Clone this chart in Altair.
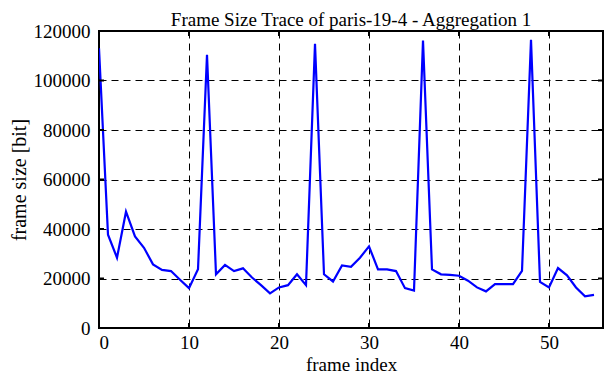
import altair as alt
import pandas as pd

sizes = [113000, 37700, 28400, 47000, 37000, 32400, 25700, 23500, 23000, 19500,
         16100, 23700, 110400, 21700, 25500, 23000, 24100, 20400, 17300, 14000,
         16400, 17300, 21700, 17300, 114800, 21700, 18800, 25300, 24700, 28400,
         33000, 23700, 23700, 23000, 16100, 15100, 116100, 23700, 21700, 21500,
         21100, 19100, 16400, 14800, 17700, 17700, 17700, 23100, 116400, 18600,
         16400, 24200, 21300, 16400, 12800, 13400]
frames = list(range(len(sizes)))
x_ticks = [0, 10, 20, 30, 40, 50]
y_ticks = [0, 20000, 40000, 60000, 80000, 100000, 120000]
x_inner = [10, 20, 30, 40, 50]
y_inner = [20000, 40000, 60000, 80000, 100000]

FONT = "Liberation Serif"
LEFT = 91
W, H = 504, 297

df = pd.DataFrame({"frame": frames, "size": sizes})
xs = alt.Scale(domain=[0, 56], nice=False, zero=False)
ys = alt.Scale(domain=[0, 120000], nice=False)

line = alt.Chart(df).mark_line(color="#0000ff", strokeWidth=2.2, clip=True).encode(
    x=alt.X("frame:Q", scale=xs,
            axis=alt.Axis(values=x_ticks, title="frame index", grid=True,
                          gridColor="black", gridDash=[7, 5], gridWidth=1,
                          gridOpacity=1, ticks=False, domain=False, format="d",
                          labelPadding=5, titleY=42, titleFontSize=19,
                          titleBaseline="alphabetic")),
    y=alt.Y("size:Q", scale=ys,
            axis=alt.Axis(values=y_ticks, title="frame size [bit]", grid=True,
                          gridColor="black", gridDash=[7, 5], gridWidth=1,
                          gridOpacity=1, ticks=False, domain=False, format="d",
                          labelPadding=9, titleX=-LEFT + 1, titleY=H / 2,
                          titleBaseline="top", titleAngle=270)),
)

ydf = pd.DataFrame({"v": y_inner})
xdf = pd.DataFrame({"v": x_inner})
tl = alt.Chart(ydf).mark_rule(color="black", strokeWidth=2).encode(
    y=alt.Y("v:Q", scale=ys), x=alt.value(0), x2=alt.value(5))
tr = alt.Chart(ydf).mark_rule(color="black", strokeWidth=2).encode(
    y=alt.Y("v:Q", scale=ys), x=alt.value(W - 5), x2=alt.value(W))
tb = alt.Chart(xdf).mark_rule(color="black", strokeWidth=2).encode(
    x=alt.X("v:Q", scale=xs), y=alt.value(H - 5), y2=alt.value(H))
tt = alt.Chart(xdf).mark_rule(color="black", strokeWidth=2).encode(
    x=alt.X("v:Q", scale=xs), y=alt.value(0), y2=alt.value(5))

chart = alt.layer(line, tl, tr, tb, tt).properties(
    width=W, height=H,
    title=alt.TitleParams("Frame Size Trace of paris-19-4 - Aggregation 1",
                          font=FONT, fontSize=19, fontWeight="normal",
                          color="black", offset=4, dy=12),
    padding={"left": LEFT, "top": 23, "right": 1, "bottom": 46},
    autosize="none",
).configure(background="white").configure_view(
    stroke="black", strokeWidth=2
).configure_axis(
    labelFont=FONT, titleFont=FONT, labelFontSize=19, titleFontSize=20,
    labelColor="black", titleColor="black", titleFontWeight="normal",
)

chart.save("out.html", embed_options={"renderer": "svg", "actions": False})
